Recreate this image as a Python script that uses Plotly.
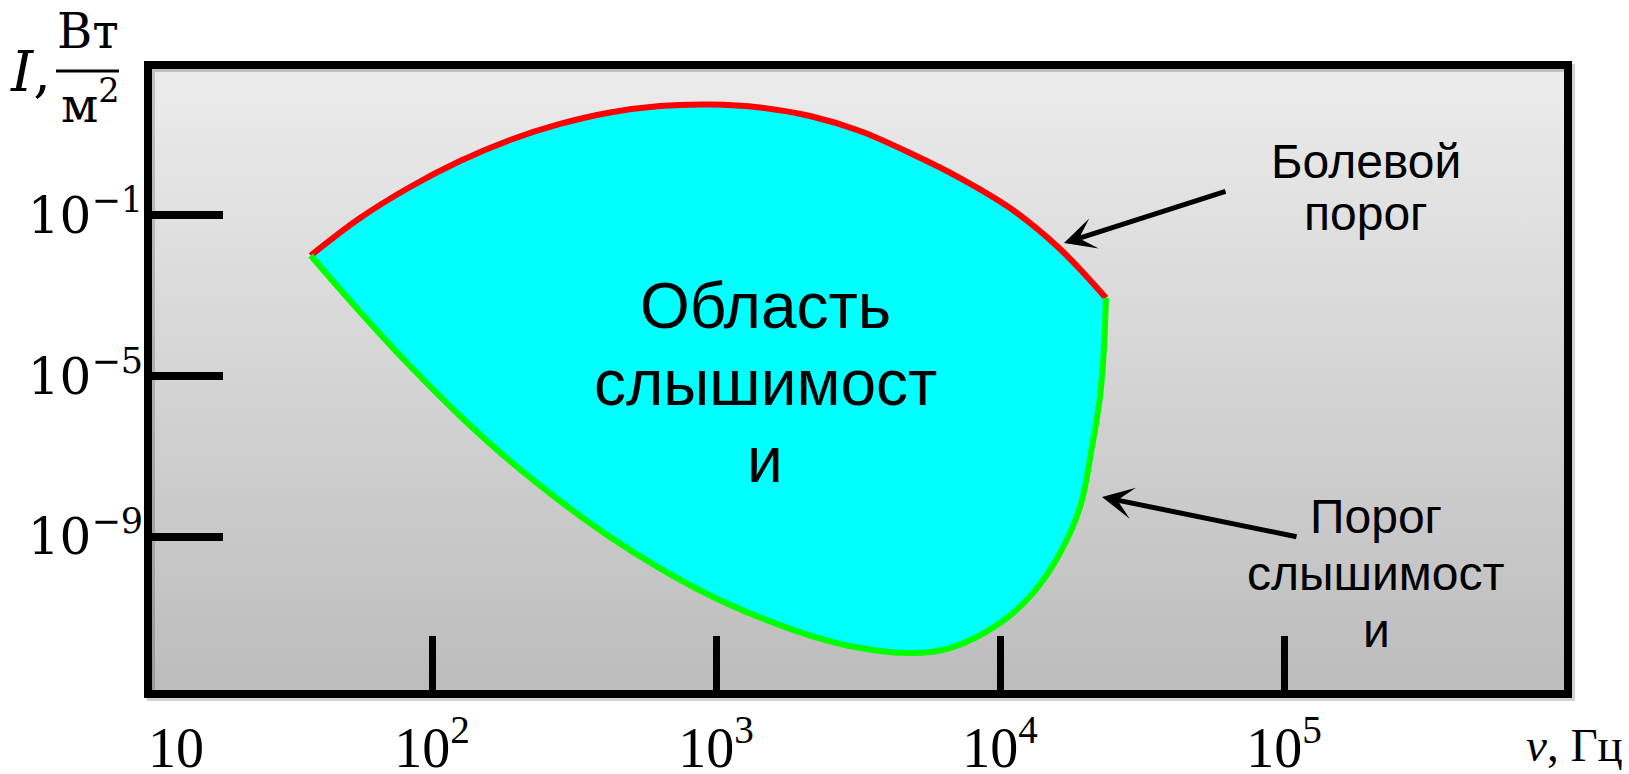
import plotly.graph_objects as go

# Threshold of pain (upper boundary of the audible region)
pain_freq = [37.4, 55.8, 83.7, 125.5, 188.2, 282.3, 423.4, 635.0, 952.6, 1428.6, 2143, 3214,
             4821, 7233, 10845, 16270, 23600]
pain_intensity = [1.0e-2, 8.57e-2, 0.506, 2.24, 7.46, 18.7, 36.1, 52.4, 57.0, 48.1, 29.5, 12.5,
                  3.55, 0.847, 0.152, 1.45e-2, 8.8e-4]

# Threshold of hearing (lower boundary of the audible region)
hear_freq = [37.4, 55.8, 83.7, 125.5, 188.2, 282.3, 423.4, 635.0, 952.6, 1428.6, 2143, 3214,
             4821, 6667, 10000, 13070, 16270, 19130, 21080, 22490, 23240, 23600]
hear_intensity = [1.0e-2, 3.94e-4, 1.78e-5, 1.02e-6, 7.73e-8, 7.82e-9, 9.93e-10, 1.64e-10,
                  3.48e-11, 9.88e-12, 3.52e-12, 1.72e-12, 1.29e-12, 1.72e-12, 7.21e-12, 4.02e-11,
                  3.97e-10, 5.55e-9, 1.72e-7, 3.02e-6, 5.30e-5, 8.8e-4]

# Axis ticks
x_tick_vals = [10, 1e2, 1e3, 1e4, 1e5]
x_tick_text = ["\u2007\u200710", "10<sup>2</sup>", "10<sup>3</sup>", "10<sup>4</sup>", "10<sup>5</sup>"]
y_tick_vals = [1e-1, 1e-5, 1e-9]
y_tick_text = ["10<sup>\u22121</sup>", "10<sup>\u22125</sup>", "10<sup>\u22129</sup>"]

# Figure geometry
W, H = 1629, 774
L, R, T, B = 148, 61, 65, 80
X_LOG_RANGE = [1.0, 6.0]
Y_LOG_RANGE = [-12.908, 2.739]


def px(xp):
    return (xp - L) / (W - L - R)


def py(yp):
    return (H - B - yp) / (H - T - B)


fig = go.Figure()

# Gray gradient plot background
x0, x1 = 10 ** X_LOG_RANGE[0], 10 ** X_LOG_RANGE[1]
y0, y1 = 10 ** Y_LOG_RANGE[0], 10 ** Y_LOG_RANGE[1]
fig.add_trace(go.Scatter(
    x=[x0, x1, x1, x0, x0], y=[y0, y0, y1, y1, y0],
    mode="none", fill="toself",
    fillgradient=dict(type="vertical", colorscale=[[0, "#bcbcbc"], [1, "#ececec"]]),
    hoverinfo="skip", showlegend=False,
))

# Upper curve: pain threshold
fig.add_trace(go.Scatter(
    x=pain_freq, y=pain_intensity, mode="lines",
    line=dict(color="#ff0000", width=6, shape="spline", smoothing=1.0),
    hoverinfo="skip", showlegend=False,
))

# Lower curve: hearing threshold, audible area filled up to the pain curve
fig.add_trace(go.Scatter(
    x=hear_freq, y=hear_intensity, mode="lines",
    line=dict(color="#00ff00", width=6, shape="spline", smoothing=1.0),
    fill="tonexty", fillcolor="#00ffff",
    hoverinfo="skip", showlegend=False,
))

sans = "Liberation Sans"
serif = "DejaVu Serif"
annotations = []


def label(text, x, y, size, family=sans, xanchor="center"):
    annotations.append(dict(
        text=text, x=px(x), y=py(y), xref="paper", yref="paper",
        xanchor=xanchor, yanchor="middle", showarrow=False,
        font=dict(family=family, size=size, color="black"),
    ))


# Region label
label("Область", 765, 306, 64)
label("слышимост", 765, 383, 64)
label("и", 765, 460, 64)

# Curve labels
label("Болевой", 1366, 161, 48)
label("порог", 1366, 214, 48)
label("Порог", 1376, 516, 48)
label("слышимост", 1376, 573, 48)
label("и", 1376, 630, 48)

# Axis titles
label("<i>I</i>,", 30, 71, 56, family=serif)
label("Вт", 88, 31, 48, family=serif)
label("м<sup>2</sup>", 90, 102, 48, family=serif)
label("<i>ν</i>, Гц", 1625, 745, 47, family="Liberation Serif", xanchor="right")

# Arrows pointing to the curves
for tip, tail in [((1064, 243), (1227, 191)), ((1102, 497), (1298, 537))]:
    annotations.append(dict(
        x=px(tip[0]), y=py(tip[1]), xref="paper", yref="paper",
        ax=tail[0] - tip[0], ay=tail[1] - tip[1], axref="pixel", ayref="pixel",
        text="", showarrow=True, arrowhead=3, arrowsize=1.05, arrowwidth=5,
        arrowcolor="black", standoff=0,
    ))

# Soft drop shadow offset of the frame, in paper units
sx, sy = 3 / (W - L - R), 3 / (H - T - B)

shapes = [
    # Frame shadow
    dict(type="rect", xref="paper", yref="paper", x0=sx, x1=1 + sx, y0=-sy, y1=1 - sy,
         line=dict(color="rgba(0,0,0,0.18)", width=8), layer="above"),
    # Plot frame
    dict(type="rect", xref="paper", yref="paper", x0=0, x1=1, y0=0, y1=1,
         line=dict(color="black", width=8), layer="above"),
    # Fraction bar of the unit W/m^2
    dict(type="line", xref="paper", yref="paper", x0=px(56), x1=px(119), y0=py(71), y1=py(71),
         line=dict(color="black", width=3)),
]

fig.update_layout(
    width=W, height=H,
    margin=dict(l=L, r=R, t=T, b=B, pad=0, autoexpand=False),
    paper_bgcolor="white", plot_bgcolor="white",
    showlegend=False,
    annotations=annotations, shapes=shapes,
    xaxis=dict(
        type="log", range=X_LOG_RANGE, showgrid=False, zeroline=False, showline=False,
        tickmode="array", tickvals=x_tick_vals, ticktext=x_tick_text,
        ticks="inside", ticklen=58, tickwidth=7, tickcolor="black",
        tickfont=dict(family="Liberation Serif", size=56, color="black"),
        ticklabelstandoff=16, fixedrange=True,
    ),
    yaxis=dict(
        type="log", range=Y_LOG_RANGE, showgrid=False, zeroline=False, showline=False,
        tickmode="array", tickvals=y_tick_vals, ticktext=y_tick_text,
        ticks="inside", ticklen=75, tickwidth=8, tickcolor="black",
        tickfont=dict(family=serif, size=50, color="black"),
        ticklabelstandoff=4, fixedrange=True,
    ),
)

fig.write_html("out.html", config={"displayModeBar": False})
